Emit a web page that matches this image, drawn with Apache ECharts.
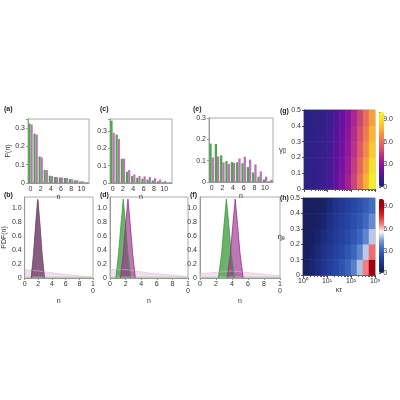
<!DOCTYPE html><html><head><meta charset="utf-8">
<script src="https://cdn.jsdelivr.net/npm/echarts@6/dist/echarts.min.js"></script>
<style>html,body{margin:0;background:#fff}#c{width:400px;height:400px}</style></head><body><div id="c"></div>
<script>
const nCats=['0','1','2','3','4','5','6','7','8','9','10','11'];
const aGreen=[0.325,0.27,0.145,0.072,0.04,0.033,0.03,0.028,0.022,0.015,0.008,0.003];
const aPurple=[0.32,0.265,0.14,0.07,0.038,0.032,0.03,0.027,0.02,0.015,0.01,0.005];
const cGreen=[0.36,0.28,0.14,0.065,0.04,0.03,0.025,0.02,0.015,0.01,0.005,0.002];
const cPurple=[0.29,0.255,0.14,0.075,0.05,0.04,0.038,0.035,0.028,0.02,0.012,0.005];
const eGreen=[0.18,0.178,0.125,0.098,0.093,0.093,0.088,0.07,0.045,0.025,0.012,0.003];
const ePurple=[0.115,0.12,0.092,0.085,0.09,0.11,0.118,0.105,0.082,0.05,0.025,0.01];
const bGreenPeak=[[0.95,0],[1.3,0.35],[1.6,0.75],[1.9,1.12],[2.2,0.75],[2.5,0.35],[2.85,0]];
const bPurplePeak=[[1.0,0],[1.35,0.35],[1.65,0.75],[1.95,1.1],[2.25,0.75],[2.55,0.35],[2.9,0]];
const dGreenPeak=[[0.75,0],[1.1,0.35],[1.4,0.75],[1.7,1.12],[2.0,0.75],[2.3,0.35],[2.65,0]];
const dPurplePeak=[[1.35,0],[1.7,0.35],[2.0,0.75],[2.3,1.12],[2.6,0.75],[2.9,0.35],[3.25,0]];
const fGreenPeak=[[2.3,0],[2.7,0.35],[3.0,0.75],[3.3,1.12],[3.6,0.75],[3.9,0.35],[4.3,0]];
const fPurplePeak=[[3.4,0],[3.8,0.35],[4.1,0.75],[4.4,1.12],[4.7,0.75],[5.0,0.35],[5.4,0]];
const bWide=[[0,0.12],[2,0.1],[5,0.06],[10,0.01]];
const dWide=[[0,0.12],[2,0.12],[5,0.07],[10,0.02]];
const fWide=[[0,0.06],[4,0.1],[10,0.03]];
const flatGreen=[[0,0.012],[10,0.012]];
const gRows=[
[0.6,0.7,0.9,1.1,1.5,2.0,2.7,3.6,4.8,6.2,7.8,9.6],
[0.55,0.65,0.85,1.05,1.4,1.9,2.5,3.4,4.5,5.8,7.3,9.0],
[0.5,0.6,0.8,1.0,1.3,1.8,2.4,3.2,4.2,5.4,6.8,8.4],
[0.45,0.55,0.75,0.95,1.25,1.7,2.3,3.0,4.0,5.1,6.4,7.9],
[0.4,0.5,0.7,0.9,1.2,1.6,2.2,2.9,3.8,4.8,6.0,7.4]];
const hRows=[
[0.3,0.6,1.0,1.4,1.8,2.2,2.6,3.1,3.8,4.9,6.6,9.3],
[0.25,0.4,0.8,1.2,1.6,1.9,2.3,2.7,3.2,3.9,5.0,6.8],
[0.2,0.3,0.5,0.9,1.3,1.7,2.0,2.3,2.7,3.2,3.9,5.0],
[0.2,0.25,0.35,0.6,1.1,1.5,1.8,2.1,2.4,2.8,3.3,4.0],
[0.2,0.2,0.3,0.4,0.8,1.3,1.6,1.9,2.2,2.5,2.9,3.4]];
const cols=['c0','c1','c2','c3','c4','c5','c6','c7','c8','c9','c10','c11'];
const rows=['r0','r1','r2','r3','r4'];
const G='#4aa84a',P='#c070b8',F=7,AC='#999';
const toHeat=r=>{const d=[];r.forEach((row,j)=>row.forEach((v,i)=>d.push([i,j,v])));return d;};
const grids=[
{left:28,top:119,width:61,height:64},{left:110,top:119,width:62,height:64},{left:209,top:118,width:64,height:64},
{left:304,top:110,width:71,height:79},
{left:17,top:197,width:76,height:81},{left:110,top:197,width:78,height:81},{left:200,top:197,width:80,height:81},
{left:303,top:198,width:72,height:77},
{left:379,top:112,width:5,height:75},{left:379,top:199,width:5,height:74}];
grids.forEach((g,i)=>{g.show=i<8;g.borderColor='#aaa';g.borderWidth=1;g.containLabel=false;});
const lab={fontSize:F,color:'#333',margin:3};
const xs=[],ys=[],series=[];
const mult=(v,s)=>Math.abs(v/s-Math.round(v/s))<1e-6;
const fmtStep=s=>v=>!mult(v,s)?'':(Math.abs(v)<1e-9?'0':v.toFixed(1));
function barPanel(gi,gr,pu,ymax,yname){
 xs.push({gridIndex:gi,type:'category',data:nCats,position:'bottom',axisLabel:{...lab,interval:1},axisTick:{show:false},axisLine:{lineStyle:{color:AC}},name:'n',nameLocation:'middle',nameGap:11,nameTextStyle:{fontSize:F,color:'#333'}});
 ys.push({gridIndex:gi,type:'value',position:'left',min:0,max:ymax,interval:0.1,axisLabel:{...lab,formatter:fmtStep(0.1)},axisTick:{show:true,length:2},axisLine:{show:true,lineStyle:{color:AC}},splitLine:{show:false},name:yname,nameLocation:'middle',nameGap:16,nameTextStyle:{fontSize:F,color:'#333'}});
 const xi=xs.length-1,yi=ys.length-1;
 series.push({type:'bar',xAxisIndex:xi,yAxisIndex:yi,data:gr,itemStyle:{color:G},barGap:'0%',barCategoryGap:'15%'});
 series.push({type:'bar',xAxisIndex:xi,yAxisIndex:yi,data:pu,itemStyle:{color:P},barGap:'0%',barCategoryGap:'15%'});
}
function pdfPanel(gi,gp,pp,wide,yname){
 xs.push({gridIndex:gi,type:'value',position:'bottom',min:0,max:10,interval:2,axisLabel:{...lab,formatter:v=>v===10?'1\n0':String(v)},axisTick:{show:true,length:2},axisLine:{lineStyle:{color:AC}},splitLine:{show:false},name:'n',nameLocation:'middle',nameGap:20,nameTextStyle:{fontSize:F,color:'#333'}});
 ys.push({gridIndex:gi,type:'value',position:'left',min:0,max:1.15,interval:0.2,axisLabel:{...lab,formatter:fmtStep(0.2)},axisTick:{show:false},axisLine:{show:true,lineStyle:{color:AC}},splitLine:{show:false},name:yname,nameLocation:'middle',nameGap:16,nameTextStyle:{fontSize:F,color:'#333'}});
 const xi=xs.length-1,yi=ys.length-1;
 const s=(d,c,op,lw)=>series.push({type:'line',xAxisIndex:xi,yAxisIndex:yi,data:d,symbol:'none',lineStyle:{color:c,width:lw},areaStyle:{color:c,opacity:op,origin:'start'}});
 s(wide,'#e6b8dc',0.45,0.6); s(flatGreen,'#9fd49f',0.5,0.8);
 s(gp,'#3a9a3a',0.75,0.8); s(pp,'#9a2f8e',0.65,0.8);
}
barPanel(0,aGreen,aPurple,0.35,'P(n)');
barPanel(1,cGreen,cPurple,0.37,'');
barPanel(2,eGreen,ePurple,0.3,'');
function heatPanel(gi,rowsData,showX){
 xs.push({gridIndex:gi,type:'category',data:cols,show:false,position:'top'});
 const hx=xs.length-1;
 xs.push({gridIndex:gi,type:'log',logBase:10,min:1,max:1000,position:'bottom',axisLabel:{...lab,show:showX,formatter:v=>({1:'10⁰',10:'10¹',100:'10²',1000:'10³'})[Math.round(v)]||''},axisTick:{show:true,length:3,lineStyle:{color:'#555'}},minorTick:{show:true,length:2,splitNumber:9,lineStyle:{color:'#555'}},axisLine:{lineStyle:{color:'#555'}},splitLine:{show:false},name:showX?'κτ':'',nameLocation:'middle',nameGap:12,nameTextStyle:{fontSize:F,color:'#333'}});
 ys.push({gridIndex:gi,type:'category',data:rows,show:false,position:'right'});
 const hy=ys.length-1;
 ys.push({gridIndex:gi,type:'value',position:'left',min:0,max:0.5,interval:0.1,axisLabel:{...lab,formatter:fmtStep(0.1)},axisTick:{show:true,length:2},axisLine:{show:true,lineStyle:{color:'#555'}},splitLine:{show:false},name:showX?'ηₑ':'γᵦ',nameLocation:'middle',nameGap:18,nameRotate:0,nameTextStyle:{fontSize:F+1,color:'#333'}});
 series.push({type:'heatmap',xAxisIndex:hx,yAxisIndex:hy,data:toHeat(rowsData),progressive:0});
 return series.length-1;
}
const gS=heatPanel(3,gRows,false);
pdfPanel(4,bGreenPeak,bPurplePeak,bWide,'PDF(n)');
pdfPanel(5,dGreenPeak,dPurplePeak,dWide,'');
pdfPanel(6,fGreenPeak,fPurplePeak,fWide,'');
const hS=heatPanel(7,hRows,true);
[8,9].forEach(gi=>{
 xs.push({gridIndex:gi,type:'value',show:false,min:0,max:1});
 ys.push({gridIndex:gi,type:'value',min:0,max:10,interval:3,position:'right',axisLabel:{...lab,formatter:fmtStep(3)},axisTick:{show:true,length:2},axisLine:{show:false},splitLine:{show:false},name:'SNR',nameLocation:'middle',nameGap:20,nameRotate:-90,nameTextStyle:{fontSize:F,color:'#333'}});
});
const titles=[['(a)',4,106],['(c)',100,106],['(e)',193,106],['(g)',280,108],['(b)',4,192],['(d)',100,192],['(f)',190,192],['(h)',280,195]]
 .map(t=>({text:t[0],left:t[1],top:t[2],padding:0,textStyle:{fontSize:7,fontWeight:'bold',color:'#222'}}));
const chart=echarts.init(document.getElementById('c'));
chart.setOption({animation:false,title:titles,grid:grids,xAxis:xs,yAxis:ys,series,
 visualMap:[
 {type:'continuous',seriesIndex:gS,min:0,max:10,left:379,top:112,padding:0,itemWidth:5,itemHeight:75,calculable:false,text:null,showLabel:false,
  inRange:{color:['#1e2678','#3a1d8f','#6a10a0','#9a179b','#c23a80','#de5f66','#f2854a','#fbb032','#f7dd2a','#f0f921']}},
 {type:'continuous',seriesIndex:hS,min:0,max:10,left:379,top:199,padding:0,itemWidth:5,itemHeight:74,calculable:false,text:null,showLabel:false,
  inRange:{color:['#161a55','#1f2f86','#2747a8','#3f6ac0','#7f9fd8','#f4f4f4','#f07878','#e02424','#b00010','#8a0010']}}]
});
</script></body></html>
